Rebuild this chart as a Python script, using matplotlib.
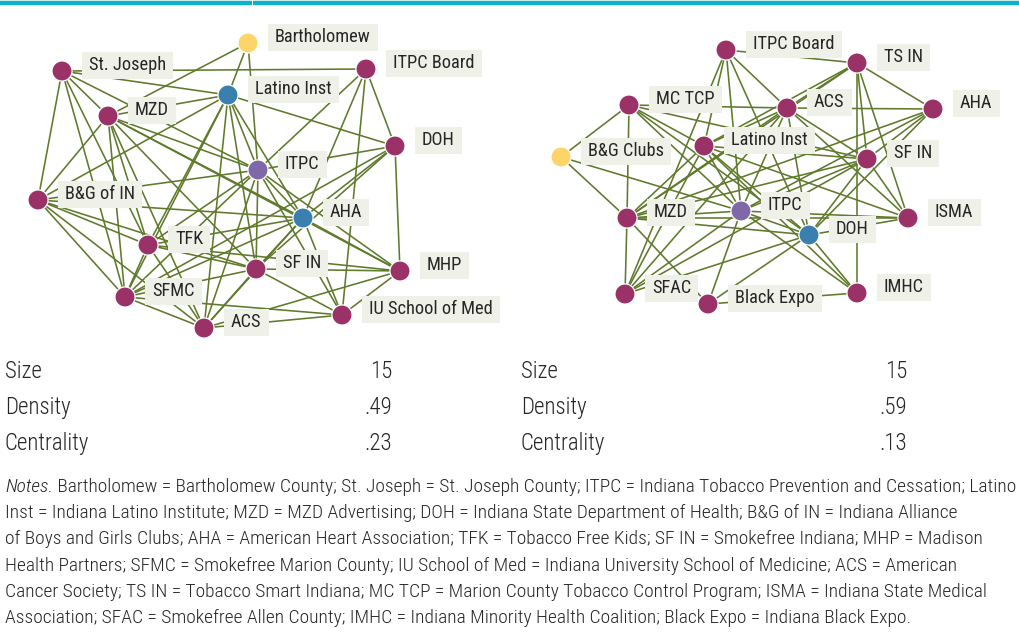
import matplotlib
matplotlib.use("Agg")
import matplotlib.pyplot as plt
from matplotlib import font_manager as fm
from matplotlib.collections import LineCollection
from matplotlib.patches import Rectangle

# ---------------- data ----------------
left_ids = ['Ba', 'SJ', 'IB', 'LI', 'MZ', 'DO', 'IT', 'BG', 'AH', 'TF', 'SI', 'MH', 'SM', 'IU', 'AC']
left_labels = ['Bartholomew', 'St. Joseph', 'ITPC Board', 'Latino Inst', 'MZD', 'DOH', 'ITPC',
               'B&G of IN', 'AHA', 'TFK', 'SF IN', 'MHP', 'SFMC', 'IU School of Med', 'ACS']
left_type = ['county', 'member', 'member', 'blue', 'member', 'member', 'lead',
             'member', 'blue', 'member', 'member', 'member', 'member', 'member', 'member']
# network layout (pixel-like layout space)
left_pos_x = [248, 62, 366, 228, 108, 395, 258, 38, 303, 148, 256, 400, 125, 342, 204]
left_pos_y = [43, 71, 69, 95, 116, 146, 170, 200, 218, 245, 269, 271, 297, 315, 328]
left_edges = [('Ba', 'LI'), ('Ba', 'IT'), ('Ba', 'MZ'), ('SJ', 'IB'), ('SJ', 'LI'), ('SJ', 'MZ'),
              ('SJ', 'BG'), ('SJ', 'TF'), ('SJ', 'SM'), ('SJ', 'IT'), ('IB', 'DO'), ('IB', 'IU'),
              ('IB', 'AH'), ('IB', 'IT'), ('LI', 'MZ'), ('LI', 'DO'), ('LI', 'SM'), ('LI', 'TF'),
              ('LI', 'AC'), ('LI', 'SI'), ('LI', 'IT'), ('LI', 'AH'), ('LI', 'BG'), ('MZ', 'BG'),
              ('MZ', 'IT'), ('MZ', 'AH'), ('MZ', 'SI'), ('MZ', 'TF'), ('MZ', 'SM'), ('MZ', 'AC'),
              ('MZ', 'MH'), ('DO', 'IT'), ('DO', 'AH'), ('DO', 'SI'), ('DO', 'MH'), ('DO', 'SM'),
              ('IT', 'BG'), ('IT', 'AH'), ('IT', 'SI'), ('IT', 'TF'), ('IT', 'SM'), ('IT', 'AC'),
              ('IT', 'MH'), ('IT', 'IU'), ('BG', 'AH'), ('BG', 'TF'), ('BG', 'SI'), ('BG', 'SM'),
              ('BG', 'AC'), ('AH', 'TF'), ('AH', 'SI'), ('AH', 'SM'), ('AH', 'AC'), ('AH', 'MH'),
              ('AH', 'IU'), ('TF', 'SI'), ('TF', 'SM'), ('TF', 'AC'), ('TF', 'MH'), ('SI', 'SM'),
              ('SI', 'AC'), ('SI', 'MH'), ('SI', 'IU'), ('SM', 'AC'), ('SM', 'IU'), ('MH', 'IU'),
              ('MH', 'AC'), ('IU', 'AC')]

right_ids = ['IB', 'TS', 'MC', 'AC', 'AH', 'BG', 'LI', 'SI', 'MZ', 'IT', 'DO', 'IS', 'SF', 'BE', 'IM']
right_labels = ['ITPC Board', 'TS IN', 'MC TCP', 'ACS', 'AHA', 'B&G Clubs', 'Latino Inst', 'SF IN',
                'MZD', 'ITPC', 'DOH', 'ISMA', 'SFAC', 'Black Expo', 'IMHC']
right_type = ['member', 'member', 'member', 'member', 'member', 'county', 'member', 'member',
              'member', 'lead', 'blue', 'member', 'member', 'member', 'member']
right_pos_x = [726, 857, 629, 787, 933, 561, 704, 867, 627, 741, 809, 908, 625, 708, 857]
right_pos_y = [50, 63, 105, 108, 109, 157, 146, 159, 218, 211, 235, 218, 294, 304, 293]
right_edges = [('IB', 'TS'), ('IB', 'AC'), ('IB', 'LI'), ('IB', 'IT'), ('IB', 'DO'), ('IB', 'SF'),
               ('TS', 'AC'), ('TS', 'AH'), ('TS', 'LI'), ('TS', 'SI'), ('TS', 'IM'), ('TS', 'IS'),
               ('TS', 'MZ'), ('MC', 'AC'), ('MC', 'BG'), ('MC', 'MZ'), ('MC', 'LI'), ('MC', 'IT'),
               ('MC', 'SI'), ('MC', 'DO'), ('AC', 'AH'), ('AC', 'LI'), ('AC', 'SI'), ('AC', 'IT'),
               ('AC', 'MZ'), ('AC', 'DO'), ('AC', 'IS'), ('AC', 'SF'), ('AH', 'SI'), ('AH', 'DO'),
               ('AH', 'IT'), ('AH', 'MZ'), ('BG', 'MZ'), ('BG', 'IT'), ('LI', 'IT'), ('LI', 'MZ'),
               ('LI', 'SF'), ('LI', 'DO'), ('LI', 'SI'), ('LI', 'IS'), ('LI', 'IM'), ('SI', 'IT'),
               ('SI', 'DO'), ('SI', 'IS'), ('SI', 'MZ'), ('SI', 'SF'), ('MZ', 'IT'), ('MZ', 'DO'),
               ('MZ', 'SF'), ('MZ', 'BE'), ('MZ', 'IS'), ('IT', 'DO'), ('IT', 'IS'), ('IT', 'SF'),
               ('IT', 'BE'), ('IT', 'IM'), ('DO', 'IS'), ('DO', 'IM'), ('DO', 'SF'), ('DO', 'BE'),
               ('BE', 'IM')]

stat_names = ['Size', 'Density', 'Centrality']
left_stats = ['15', '.49', '.23']
right_stats = ['15', '.59', '.13']

notes_lead = 'Notes.'
notes_lines = [
    ' Bartholomew = Bartholomew County; St. Joseph = St. Joseph County; ITPC = Indiana Tobacco Prevention and Cessation; Latino',
    'Inst = Indiana Latino Institute; MZD = MZD Advertising; DOH = Indiana State Department of Health; B&G of IN = Indiana Alliance',
    'of Boys and Girls Clubs; AHA = American Heart Association; TFK = Tobacco Free Kids; SF IN = Smokefree Indiana; MHP = Madison',
    'Health Partners; SFMC = Smokefree Marion County; IU School of Med = Indiana University School of Medicine; ACS = American',
    'Cancer Society; TS IN = Tobacco Smart Indiana; MC TCP = Marion County Tobacco Control Program; ISMA = Indiana State Medical',
    'Association; SFAC = Smokefree Allen County; IMHC = Indiana Minority Health Coalition; Black Expo = Indiana Black Expo.',
]

# ---------------- style ----------------
type_colors = {'member': '#9b3267', 'blue': '#3a7fae', 'lead': '#7e68a7', 'county': '#fdd468'}
EDGE_C = '#5f7a2b'
BOX_C = '#eff1e9'
TXT_C = '#262626'
TEAL = '#0bb3c9'

# font: prefer a condensed sans
entries = fm.fontManager.ttflist
names = {f.name for f in entries}
FONT, STRETCH = None, 'normal'
for cand in ['Roboto Condensed', 'Liberation Sans Narrow', 'Open Sans Condensed',
             'Noto Sans Condensed', 'DejaVu Sans Condensed']:
    if cand in names:
        FONT = cand
        break
if FONT is None:
    for f in entries:
        if ('Condensed' in f.name or 'Narrow' in f.name) and 'Mono' not in f.name and 'Serif' not in f.name:
            FONT = f.name
            break
if FONT is None:
    cond = [f for f in entries if f.name == 'DejaVu Sans' and 'condensed' in str(f.stretch)]
    if cond:
        FONT, STRETCH = 'DejaVu Sans', 'condensed'
    else:
        FONT = 'Roboto'
plt.rcParams['font.family'] = [FONT, 'DejaVu Sans']
plt.rcParams['font.stretch'] = STRETCH
plt.rcParams['font.weight'] = 'light'

fig = plt.figure(figsize=(10.2, 6.34), dpi=100)
ax = fig.add_axes([0, 0, 1, 1])
ax.set_xlim(0, 1020)
ax.set_ylim(634, 0)
ax.axis('off')

# top rule (two segments with a hairline gap)
ax.plot([0, 252.5], [2.5, 2.5], color=TEAL, lw=3.2, solid_capstyle='butt', zorder=1)
ax.plot([253.5, 1020], [2.5, 2.5], color=TEAL, lw=3.2, solid_capstyle='butt', zorder=1)


def draw_network(ids, labels, types, px, py, edges):
    pos = {i: (x, y) for i, x, y in zip(ids, px, py)}
    segs = [[pos[a], pos[b]] for a, b in edges]
    ax.add_collection(LineCollection(segs, colors=EDGE_C, linewidths=1.15, zorder=2))
    ax.scatter(px, py, s=210, c=[type_colors[t] for t in types], edgecolors='white',
               linewidths=0.9, zorder=3)
    texts = []
    for lab, x, y in zip(labels, px, py):
        t = ax.text(x + 27, y - 6, lab, fontsize=13.2, fontweight='normal', color=TXT_C,
                    ha='left', va='center', zorder=6)
        texts.append(t)
    return texts


label_texts = draw_network(left_ids, left_labels, left_type, left_pos_x, left_pos_y, left_edges)
label_texts += draw_network(right_ids, right_labels, right_type, right_pos_x, right_pos_y, right_edges)

# stats
SFS = 16.5
for i, nm in enumerate(stat_names):
    yb = 378 + 36 * i
    ax.text(5, yb, nm, fontsize=SFS, color=TXT_C, ha='left', va='baseline')
    ax.text(392, yb, left_stats[i], fontsize=SFS, color=TXT_C, ha='right', va='baseline')
    ax.text(521, yb, nm, fontsize=SFS, color=TXT_C, ha='left', va='baseline')
    ax.text(907, yb, right_stats[i], fontsize=SFS, color=TXT_C, ha='right', va='baseline')

# notes: fit first line width
fig.canvas.draw()
r = fig.canvas.get_renderer()
probe = ax.text(0, 0, notes_lead + notes_lines[0], fontsize=13)
w = probe.get_window_extent(r).width
probe.remove()
nfs = 13 * 1008.0 / w
t0 = ax.text(5, 492, notes_lead, fontsize=nfs, style='italic', color=TXT_C, ha='left', va='baseline')
ax.annotate(notes_lines[0], xy=(1, 0), xycoords=t0, fontsize=nfs, color=TXT_C,
            ha='left', va='bottom')
for k, line in enumerate(notes_lines[1:], start=1):
    ax.text(5, 492 + 26.2 * k, line, fontsize=nfs, color=TXT_C, ha='left', va='baseline')

# label boxes sized from text
fig.canvas.draw()
inv = ax.transData.inverted()
for t in label_texts:
    bb = t.get_window_extent(r)
    (x0, _), (x1, _) = inv.transform([[bb.x0, bb.y0], [bb.x1, bb.y1]])
    xl, xr = min(x0, x1) - 7, max(x0, x1) + 7
    yc = t.get_position()[1]
    ax.add_patch(Rectangle((xl, yc - 13.5), xr - xl, 27, facecolor=BOX_C, edgecolor='none', zorder=5))

fig.savefig('out.png', dpi=100)
